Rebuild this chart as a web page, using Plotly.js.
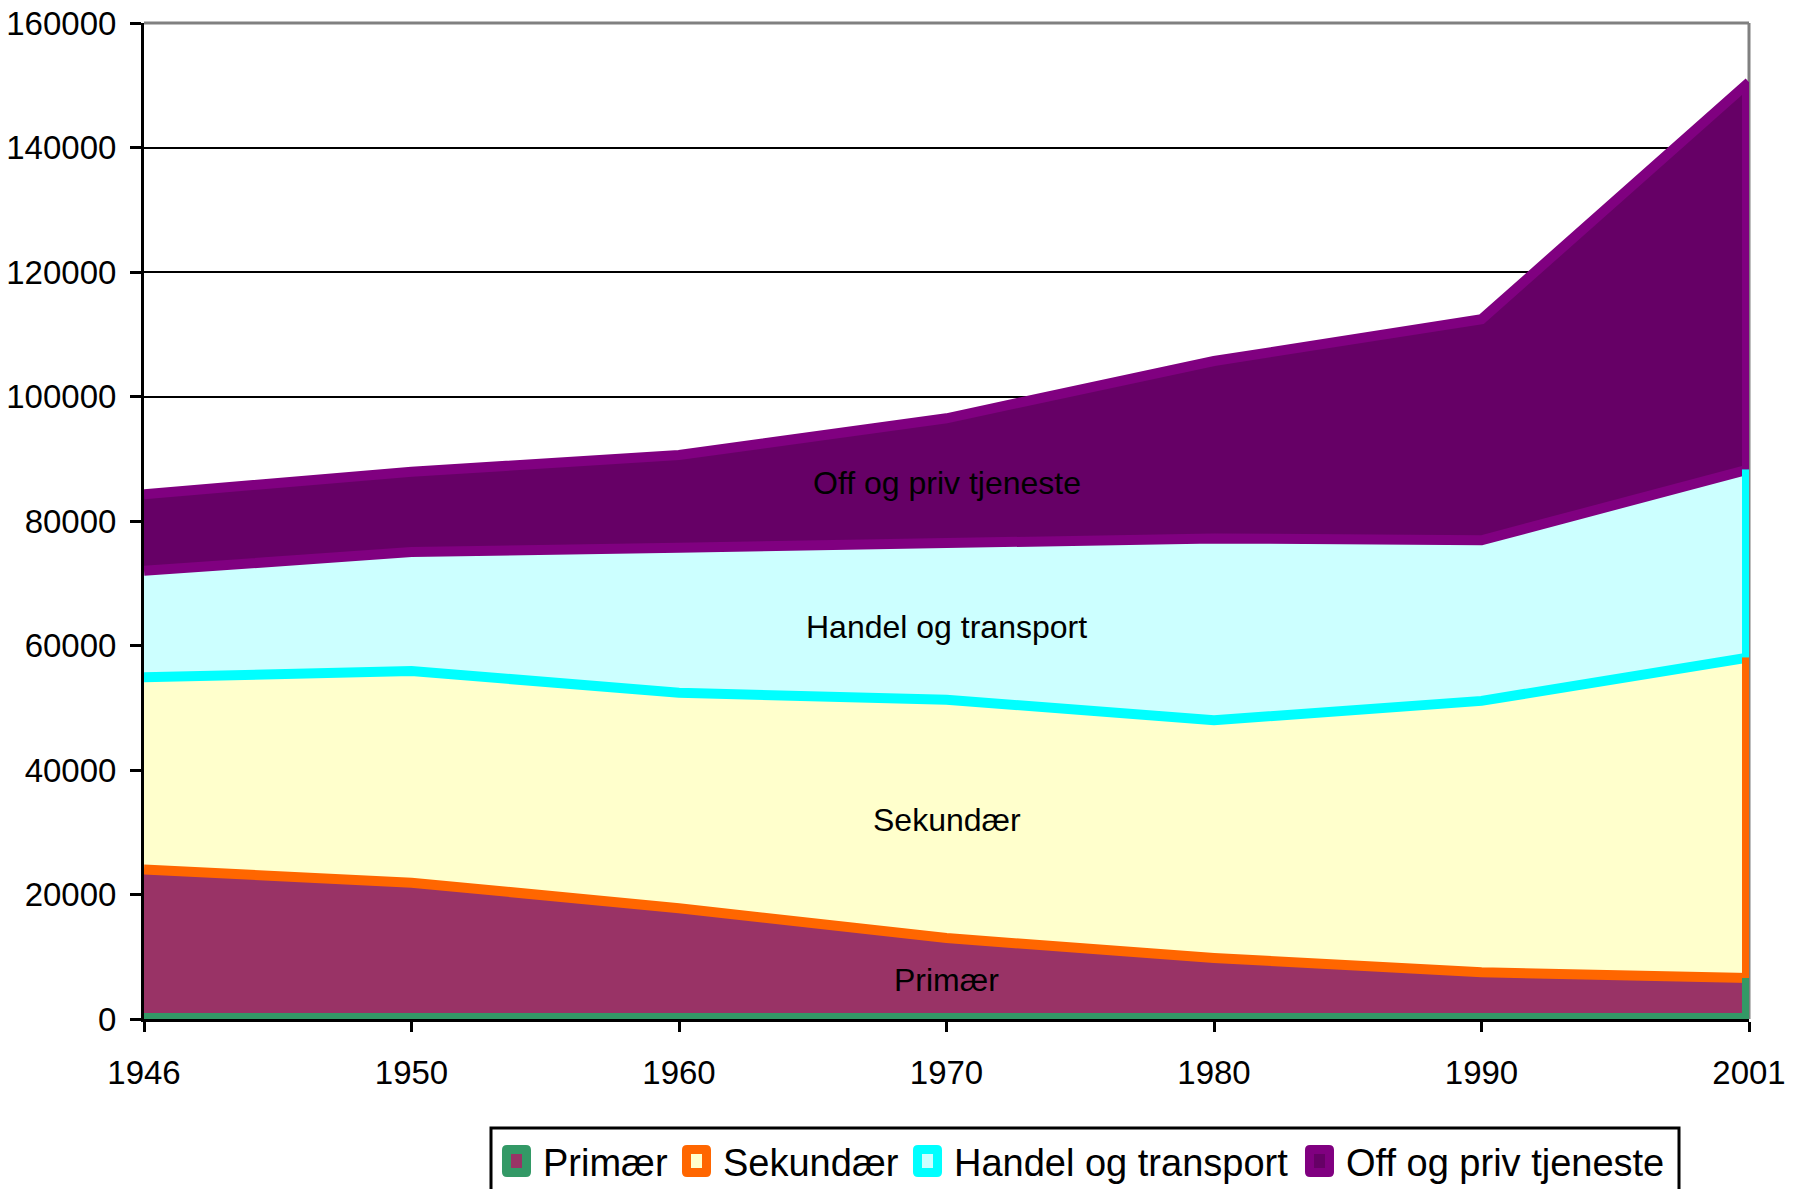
<!DOCTYPE html>
<html><head><meta charset="utf-8">
<script src="https://cdn.plot.ly/plotly-3.0.1.min.js"></script>
<style>html,body{margin:0;padding:0;background:#fff}</style>
</head><body><div id="chart" style="width:1802px;height:1189px"></div>
<script>
// ---- data ----
const years = ['1946', '1950', '1960', '1970', '1980', '1990', '2001'];
const seriesNames = ['Primær', 'Sekundær', 'Handel og transport', 'Off og priv tjeneste'];
const primaer   = [24000, 21900, 17800, 13000,  9800,  7500,  6600];
const sekundaer = [30900, 34000, 34600, 38300, 38200, 43600, 51500];
const handel    = [17100, 19100, 23300, 25100, 29200, 25800, 30200];
const offPriv   = [12300, 12900, 14900, 20100, 28500, 35500, 62200];
const yTickVals = [0, 20000, 40000, 60000, 80000, 100000, 120000, 140000, 160000];

// ---- styles ----
const fillColors = ['#993366', '#FFFFCC', '#CCFFFF', '#660066'];
const edgeColors = ['#339966', '#FF6600', '#00FFFF', '#800080'];
const FONT = 'Liberation Sans, Arial, sans-serif';
const M = {l: 144, r: 53, t: 23, b: 170};
const W = 1802, H = 1189;
const PW = W - M.l - M.r, PH = H - M.t - M.b;
const px2x = px => (px - M.l) / PW;
const px2y = py => (H - M.b - py) / PH;

const values = [primaer, sekundaer, handel, offPriv];

// cumulative tops
const cum = [];
values.forEach((arr, i) => {
  cum.push(arr.map((v, j) => v + (i > 0 ? cum[i - 1][j] : 0)));
});

const traces = [];
// filled stacked areas
values.forEach((arr, i) => {
  traces.push({
    x: years, y: arr, name: seriesNames[i], type: 'scatter', mode: 'lines',
    stackgroup: 'main', fill: 'tonexty', fillcolor: fillColors[i],
    line: {width: 0, color: edgeColors[i]}, showlegend: false, hoverinfo: 'x+y+name'
  });
});
// bottom border of first area
traces.push({
  x: years, y: years.map(() => 0), type: 'scatter', mode: 'lines',
  line: {color: edgeColors[0], width: 12}, showlegend: false, hoverinfo: 'skip'
});
// boundary bands: band at each top edge takes the colour of the series above it
cum.forEach((arr, i) => {
  const c = i < cum.length - 1 ? edgeColors[i + 1] : edgeColors[i];
  traces.push({
    x: years, y: arr, type: 'scatter', mode: 'lines',
    line: {color: c, width: 10}, showlegend: false, hoverinfo: 'skip'
  });
});
// right-hand edges of each area
const last = years.length - 1;
cum.forEach((arr, i) => {
  const lo = i > 0 ? cum[i - 1][last] : 0;
  traces.push({
    x: [years[last], years[last]], y: [lo, arr[last]], type: 'scatter', mode: 'lines',
    line: {color: edgeColors[i], width: 14}, showlegend: false, hoverinfo: 'skip'
  });
});

// in-chart series labels (positions are layout choices)
const labelY = [6300, 32000, 63000, 86100];
const labelXIndex = years.indexOf('1970');
const annotations = seriesNames.map((n, i) => ({
  x: labelXIndex, y: labelY[i], xref: 'x', yref: 'y', text: n, showarrow: false,
  font: {family: FONT, size: 32, color: '#000'}, xanchor: 'center', yanchor: 'middle'
}));

// custom legend
const shapes = [
  {type: 'line', xref: 'paper', yref: 'paper', x0: 1, x1: 1, y0: 0, y1: 1,
   line: {color: '#808080', width: 3}, layer: 'below'},
  {type: 'line', xref: 'paper', yref: 'paper', x0: 0, x1: 1, y0: 1, y1: 1,
   line: {color: '#808080', width: 3}, layer: 'above'},
  {type: 'rect', xref: 'paper', yref: 'paper', x0: px2x(491), x1: px2x(1679),
   y0: px2y(1128), y1: px2y(1210), line: {color: '#000', width: 3}, fillcolor: 'rgba(0,0,0,0)'}
];
function roundRect(x0, y0, w, h, r) {
  const X = v => px2x(v).toFixed(5), Y = v => px2y(v).toFixed(5);
  const x1 = x0 + w, y1 = y0 + h;
  return 'M' + X(x0 + r) + ',' + Y(y0) + ' L' + X(x1 - r) + ',' + Y(y0) +
    ' Q' + X(x1) + ',' + Y(y0) + ' ' + X(x1) + ',' + Y(y0 + r) +
    ' L' + X(x1) + ',' + Y(y1 - r) +
    ' Q' + X(x1) + ',' + Y(y1) + ' ' + X(x1 - r) + ',' + Y(y1) +
    ' L' + X(x0 + r) + ',' + Y(y1) +
    ' Q' + X(x0) + ',' + Y(y1) + ' ' + X(x0) + ',' + Y(y1 - r) +
    ' L' + X(x0) + ',' + Y(y0 + r) +
    ' Q' + X(x0) + ',' + Y(y0) + ' ' + X(x0 + r) + ',' + Y(y0) + ' Z';
}
const legIconX = [502, 682, 913, 1305];
const legIconTop = 1145, legIconW = 29, legIconH = 32;
const legTextGap = 10, legTextY = 1163;
seriesNames.forEach((n, i) => {
  const x0 = legIconX[i];
  shapes.push({type: 'path', xref: 'paper', yref: 'paper',
    path: roundRect(x0, legIconTop, legIconW, legIconH, 5),
    fillcolor: edgeColors[i], line: {width: 0}});
  const iw = 11, ih = 14;
  const cx = x0 + legIconW / 2, cy = legIconTop + legIconH / 2;
  shapes.push({type: 'rect', xref: 'paper', yref: 'paper',
    x0: px2x(cx - iw / 2), x1: px2x(cx + iw / 2), y0: px2y(cy + ih / 2), y1: px2y(cy - ih / 2),
    fillcolor: fillColors[i], line: {width: 0}});
  annotations.push({xref: 'paper', yref: 'paper', x: px2x(x0 + legIconW + legTextGap), y: px2y(legTextY),
    text: n, showarrow: false, xanchor: 'left', yanchor: 'middle',
    font: {family: FONT, size: 38, color: '#000'}});
});

const layout = {
  width: W, height: H, margin: M,
  paper_bgcolor: '#fff', plot_bgcolor: '#fff',
  showlegend: false,
  font: {family: FONT, size: 32, color: '#000'},
  xaxis: {
    type: 'category', range: [0, years.length - 1], showgrid: false, zeroline: false,
    showline: true, linecolor: '#000', linewidth: 3,
    ticks: 'outside', ticklen: 10, tickwidth: 3, tickcolor: '#000',
    tickfont: {family: FONT, size: 33, color: '#000'}, ticklabelstandoff: 12
  },
  yaxis: {
    range: [0, 160000], tickvals: yTickVals, tickformat: 'd',
    showgrid: true, gridcolor: '#000', gridwidth: 2, zeroline: false,
    showline: true, linecolor: '#000', linewidth: 3,
    ticks: 'outside', ticklen: 11, tickwidth: 3, tickcolor: '#000',
    tickfont: {family: FONT, size: 33, color: '#000'}, ticklabelstandoff: 7
  },
  annotations: annotations,
  shapes: shapes
};

Plotly.newPlot('chart', traces, layout, {staticPlot: true, displayModeBar: false});
</script>
</body></html>
